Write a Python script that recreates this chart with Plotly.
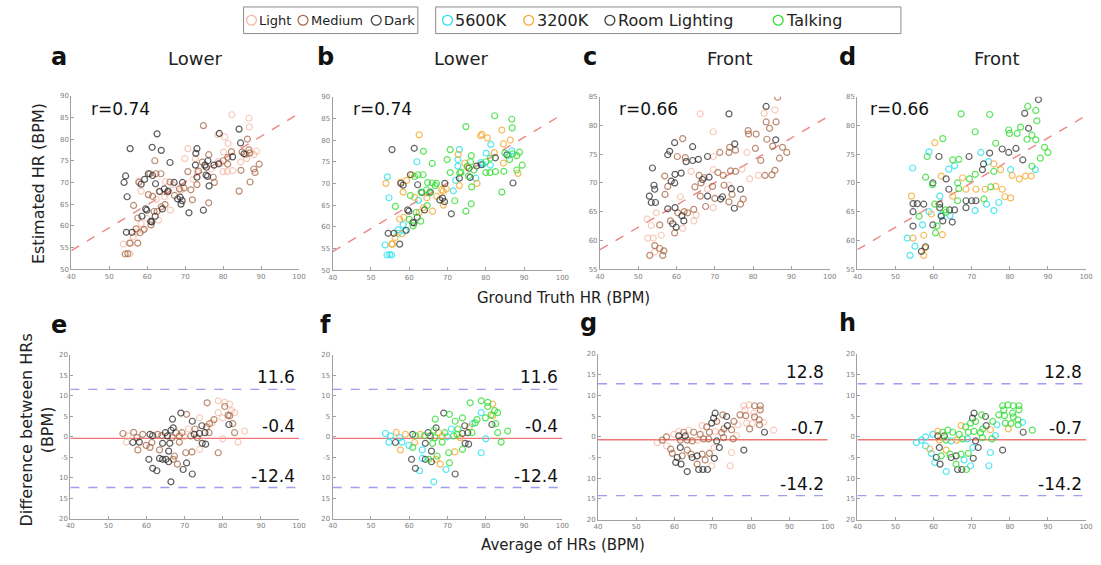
import plotly.graph_objects as go

W, H = 1101, 565

# ---------------- DATA ----------------
# Lower camera: ground truth vs estimated HR (panels a, b)
lower_gt = [62.6, 55.5, 61.3, 63.7, 54.3, 53.9, 59.3, 60.3, 61.4, 62.2, 58.4, 54.7, 59.6, 59.9, 58.6, 60.9, 61.2, 62.1, 54.5, 64.5,
            65.5, 66.0, 67.1, 68.0, 68.7, 69.2, 69.3, 68.9, 71.0, 72.7, 73.1, 72.8, 73.1, 75.2, 75.6, 75.5, 76.0, 76.3, 74.8, 75.9,
            79.0, 77.6, 78.8, 84.2, 84.6, 82.5, 85.5, 63.3, 64.0, 56.0,
            74.8, 62.0, 62.3, 60.7, 63.6, 60.3, 61.4, 57.8, 56.4, 57.5, 59.2, 58.1, 55.4, 54.2, 54.9, 57.5, 57.1, 61.0, 61.8, 62.6,
            63.7, 64.7, 65.3, 66.0, 67.2, 68.5, 69.7, 70.7, 71.5, 71.9, 73.1, 73.5, 74.5, 76.2, 76.2, 77.4, 77.7, 80.0, 81.2, 81.2,
            84.2, 84.7, 86.0, 86.8, 87.0, 87.1, 88.4, 89.5, 88.1, 86.4, 85.0, 82.2,
            82.3, 86.8, 86.9, 81.3, 80.4, 78.6, 80.1, 70.7, 69.9, 73.2, 75.1, 76.9, 78.7, 80.0, 81.1, 82.5, 86.2, 88.1, 88.8, 84.6,
            79.3, 53.7, 55.4, 56.3, 55.6, 57.1, 58.9, 58.4, 60.0, 64.6, 66.1, 63.1, 64.8, 57.8, 58.4, 66.8, 68.9, 72.1, 72.7, 62.4, 63.0]
lower_est = [81.2, 77.8, 78.1, 77.4, 71.5, 70.0, 70.7, 72.0, 71.6, 69.7, 69.6, 66.7, 63.9, 63.6, 62.2, 61.0, 60.9, 62.2, 58.5, 68.5,
             68.0, 74.6, 70.0, 66.2, 66.6, 65.8, 70.0, 65.0, 63.0, 74.0, 77.8, 76.7, 71.2, 74.0, 73.5, 71.7, 75.0, 69.2, 63.6, 71.4,
             81.3, 74.0, 74.3, 82.3, 79.1, 75.9, 76.6, 67.9, 63.9, 58.5,
             83.1, 75.0, 72.0, 72.0, 72.0, 67.2, 66.8, 70.0, 64.7, 61.8, 59.2, 58.4, 56.0, 53.5, 53.6, 56.0, 59.3, 60.2, 63.3, 63.3,
             64.4, 64.9, 67.8, 70.1, 67.0, 68.5, 68.7, 72.5, 68.3, 66.0, 69.5, 72.6, 74.7, 76.4, 65.3, 71.2, 70.0, 75.0, 74.2, 75.8,
             68.0, 72.8, 76.5, 77.5, 76.8, 70.1, 72.3, 74.2, 73.1, 80.0, 77.0, 77.1,
             85.6, 84.8, 82.8, 79.0, 80.5, 81.0, 77.0, 77.8, 75.5, 72.4, 73.8, 73.1, 74.8, 72.5, 72.5, 72.7, 75.5, 76.4, 77.2, 74.7,
             74.4, 55.8, 53.5, 57.5, 56.0, 58.5, 59.0, 60.5, 61.7, 66.7, 63.6, 68.0, 70.2, 70.3, 68.0, 69.5, 68.2, 70.7, 75.5, 66.1, 61.3]
lower_skin = (["Dark"] * 50) + (["Medium"] * 52) + (["Light"] * 41)
lower_light = ["3200K", "Room Lighting", "Room Lighting", "Talking", "5600K", "3200K", "3200K", "Room Lighting", "Talking", "Room Lighting",
               "Room Lighting", "5600K", "Room Lighting", "Room Lighting", "3200K", "Room Lighting", "Room Lighting", "Room Lighting", "Room Lighting", "Talking",
               "Room Lighting", "Talking", "Talking", "Room Lighting", "Room Lighting", "Room Lighting", "Room Lighting", "3200K", "Room Lighting", "5600K",
               "5600K", "3200K", "Room Lighting", "Talking", "Room Lighting", "Talking", "Talking", "Talking", "Talking", "Room Lighting",
               "3200K", "Room Lighting", "Room Lighting", "3200K", "3200K", "Room Lighting", "Room Lighting", "Room Lighting", "Room Lighting", "Room Lighting",
               "Talking", "5600K", "Talking", "3200K", "Talking", "Talking", "3200K", "Room Lighting", "Talking", "3200K",
               "Room Lighting", "3200K", "3200K", "5600K", "5600K", "Room Lighting", "5600K", "Talking", "Talking", "3200K",
               "3200K", "Talking", "Talking", "Talking", "3200K", "3200K", "3200K", "Talking", "5600K", "Talking",
               "3200K", "Talking", "3200K", "Talking", "Talking", "5600K", "3200K", "Talking", "5600K", "Talking",
               "Talking", "Talking", "5600K", "5600K", "Talking", "Room Lighting", "3200K", "Talking", "Talking", "3200K",
               "Talking", "3200K",
               "Talking", "Talking", "Talking", "5600K", "3200K", "3200K", "5600K", "Talking", "Talking", "Talking",
               "3200K", "Talking", "5600K", "Talking", "Talking", "Talking", "Talking", "Talking", "Talking", "3200K",
               "5600K", "5600K", "5600K", "3200K", "3200K", "5600K", "5600K", "5600K", "Talking", "3200K",
               "3200K", "Talking", "Talking", "3200K", "3200K", "Talking", "3200K", "5600K", "5600K", "5600K", "Talking"]

# Front camera, coloured by skin tone (panel c)
front_c_gt = [86.4, 83.4, 73.7, 66.2, 85.7, 82.9, 83.4, 86.0, 84.3, 69.6, 78.7, 78.8, 80.8, 83.6, 85.9, 59.5, 61.6, 64.2, 58.2, 57.7,
              60.2, 62.3, 62.5, 64.2, 65.7, 68.1, 69.6, 71.3, 73.7, 75.2, 73.9, 75.4, 78.4, 80.6, 85.1, 87.7, 88.8, 86.9, 82.0, 85.7,
              81.4, 83.1, 84.9, 53.7, 56.9, 58.6, 59.6, 61.2, 63.8, 65.9, 67.2, 68.5, 69.6, 70.8, 72.2, 74.1, 75.4, 77.1, 79.1, 54.1,
              54.3, 57.7, 59.5, 64.8, 66.4, 66.8, 68.1, 69.4, 72.4, 74.3, 76.7, 73.7, 52.9, 53.4, 54.5, 57.0, 61.0, 66.2, 68.1, 70.0,
              71.5, 72.0, 74.5, 77.4, 76.7, 73.7, 75.1, 69.6, 67.6, 57.7, 59.6, 60.3, 62.0, 62.9, 64.5, 65.1, 54.7, 52.3, 53.4, 55.6,
              58.4, 59.0, 59.9, 61.9, 61.4, 64.5, 59.5, 61.6, 52.5, 53.9, 56.0, 54.3, 55.6, 56.7, 53.0, 56.4, 54.3]
front_c_est = [84.9, 83.3, 82.0, 82.0, 82.7, 82.1, 80.6, 80.6, 79.5, 78.9, 79.1, 78.5, 78.5, 77.6, 77.5, 77.0, 77.7, 76.3, 75.5, 74.9,
               74.6, 74.4, 73.7, 73.9, 74.1, 74.6, 74.6, 75.3, 75.3, 76.8, 76.2, 75.7, 75.3, 76.0, 76.4, 76.2, 75.3, 74.3, 73.9, 72.2,
               71.3, 71.3, 71.4, 72.6, 71.2, 70.3, 71.5, 71.7, 72.0, 71.3, 70.9, 71.0, 72.3, 71.8, 71.3, 72.1, 72.0, 72.4, 70.7, 69.6,
               68.9, 69.4, 70.0, 69.3, 70.0, 70.6, 68.9, 69.4, 69.6, 69.0, 68.9, 69.6, 67.7, 66.6, 66.6, 68.0, 67.6, 67.7, 67.7, 67.3,
               67.2, 67.6, 68.0, 67.2, 66.3, 66.7, 65.6, 65.7, 65.9, 65.5, 65.7, 64.8, 65.0, 64.8, 65.4, 64.4, 64.8, 63.7, 62.6, 62.7,
               63.4, 62.9, 62.3, 63.4, 64.3, 63.4, 61.3, 62.1, 60.4, 60.4, 60.9, 59.1, 58.6, 58.2, 57.4, 57.4, 58.0]
front_c_skin = ["Medium", "Dark", "Dark", "Light", "Light", "Light", "Medium", "Medium", "Medium", "Light",
                "Medium", "Medium", "Medium", "Medium", "Dark", "Dark", "Medium", "Dark", "Dark", "Dark",
                "Medium", "Medium", "Dark", "Dark", "Dark", "Dark", "Light", "Medium", "Medium", "Dark",
                "Medium", "Medium", "Light", "Medium", "Medium", "Medium", "Medium", "Medium", "Medium", "Medium",
                "Light", "Medium", "Medium", "Dark", "Medium", "Dark", "Dark", "Dark", "Light", "Medium",
                "Medium", "Dark", "Light", "Medium", "Medium", "Medium", "Medium", "Light", "Light", "Dark",
                "Dark", "Medium", "Dark", "Medium", "Medium", "Dark", "Light", "Medium", "Medium", "Dark",
                "Dark", "Light", "Dark", "Dark", "Dark", "Medium", "Light", "Medium", "Dark", "Medium",
                "Dark", "Dark", "Medium", "Medium", "Medium", "Medium", "Dark", "Light", "Medium", "Dark",
                "Dark", "Medium", "Medium", "Medium", "Medium", "Light", "Light", "Light", "Light", "Medium",
                "Medium", "Dark", "Dark", "Dark", "Dark", "Light", "Medium", "Light", "Light", "Light",
                "Light", "Medium", "Medium", "Medium", "Medium", "Medium", "Light"]

# Front camera, coloured by lighting condition (panel d)
front_d_gt = [87.5, 84.7, 83.9, 67.2, 74.7, 86.8, 87.1, 84.9, 70.9, 79.7, 79.9, 81.9, 84.5, 85.8, 82.8, 86.8, 62.4, 60.3, 58.8, 58.3,
              61.4, 65.0, 66.6, 69.3, 72.4, 74.7, 76.3, 78.0, 79.7, 81.6, 89.1, 90.0, 88.0, 83.4, 86.7, 85.8, 84.1, 85.6, 82.5, 54.5,
              57.9, 59.8, 59.7, 62.0, 64.0, 65.5, 63.3, 66.3, 67.6, 69.4, 70.9, 72.8, 73.1, 74.4, 75.8, 75.8, 77.6, 80.6, 80.2, 64.0,
              61.6, 65.0, 66.6, 68.5, 71.1, 73.5, 75.0, 76.3, 78.0, 78.7, 80.2, 54.2, 54.6, 55.7, 57.4, 61.6, 66.3, 68.5, 70.0, 71.1,
              73.2, 73.9, 77.1, 75.8, 70.9, 68.5, 54.6, 60.3, 61.6, 63.1, 64.2, 65.5, 62.0, 63.3, 64.3, 59.4, 58.8, 62.0, 56.2, 57.1,
              54.6, 59.8, 60.9, 62.4, 64.9, 60.5, 62.3, 53.1, 54.6, 57.4, 55.1, 57.7, 57.9, 56.8, 57.4, 53.8]
front_d_est = [84.5, 83.3, 82.1, 82.0, 81.9, 82.6, 80.8, 79.5, 78.9, 79.2, 78.6, 78.6, 77.6, 78.3, 79.7, 77.5, 77.7, 77.0, 75.4, 74.6,
               74.6, 74.0, 74.1, 74.6, 75.3, 75.2, 76.9, 75.9, 75.3, 76.0, 76.2, 75.3, 74.3, 74.0, 72.3, 72.9, 71.2, 71.2, 70.7, 72.6,
               71.0, 70.0, 69.7, 71.2, 72.4, 73.0, 70.7, 70.0, 70.9, 70.7, 71.5, 72.3, 73.3, 73.7, 73.3, 72.0, 72.3, 71.3, 72.3, 68.9,
               67.7, 67.7, 69.0, 68.9, 68.9, 68.9, 69.3, 69.4, 68.9, 67.6, 67.4, 67.7, 66.4, 66.4, 66.3, 66.3, 66.9, 66.9, 66.9, 66.9,
               67.2, 66.3, 66.6, 65.2, 65.2, 65.7, 65.0, 66.3, 65.7, 65.3, 65.3, 65.3, 64.4, 64.9, 64.3, 64.6, 65.0, 64.2, 64.2, 62.7,
               62.5, 62.7, 62.5, 63.4, 63.2, 61.3, 61.0, 60.4, 60.4, 60.9, 59.0, 58.7, 58.9, 58.1, 57.4, 57.4]
front_d_light = ["Room Lighting", "Talking", "Room Lighting", "Talking", "Talking", "Talking", "Talking", "Room Lighting", "Talking", "Talking",
                 "Talking", "Talking", "Talking", "Talking", "Talking", "Talking", "Talking", "3200K", "5600K", "Talking",
                 "Room Lighting", "Talking", "Talking", "Room Lighting", "5600K", "Room Lighting", "Talking", "Room Lighting", "Room Lighting", "Room Lighting",
                 "Talking", "Talking", "Talking", "Room Lighting", "5600K", "Talking", "3200K", "3200K", "3200K", "5600K",
                 "Talking", "Room Lighting", "Talking", "3200K", "5600K", "5600K", "Room Lighting", "Talking", "3200K", "Talking",
                 "Talking", "Room Lighting", "Room Lighting", "5600K", "3200K", "Talking", "3200K", "3200K", "5600K", "Room Lighting",
                 "5600K", "3200K", "Talking", "3200K", "3200K", "3200K", "Talking", "3200K", "3200K", "3200K",
                 "3200K", "3200K", "Room Lighting", "Room Lighting", "Room Lighting", "Room Lighting", "Talking", "Room Lighting", "Room Lighting", "Room Lighting",
                 "Talking", "5600K", "5600K", "5600K", "5600K", "Room Lighting", "Room Lighting", "Talking", "Room Lighting", "Talking",
                 "Room Lighting", "Room Lighting", "5600K", "Talking", "5600K", "3200K", "5600K", "Room Lighting", "Talking", "5600K",
                 "Room Lighting", "Room Lighting", "Talking", "Room Lighting", "Room Lighting", "Talking", "3200K", "5600K", "3200K", "3200K",
                 "5600K", "3200K", "Room Lighting", "Room Lighting", "3200K", "5600K"]

# Lower camera Bland-Altman (panels e, f)
lower_ba_avg = [75.9, 78.8, 80.5, 81.8, 80.5, 82.3, 81.8, 81.4, 83.1, 78.8, 79.9, 69.0, 70.5, 77.7, 76.5, 81.6, 82.6, 72.0, 73.9, 74.5,
                75.7, 77.2, 66.8, 67.0, 66.4, 64.9, 67.7, 69.3, 71.0, 72.7, 73.9, 75.3, 76.4, 72.5, 83.1, 85.7, 84.0, 78.8, 80.0, 53.8,
                55.1, 56.6, 57.5, 59.0, 60.9, 61.6, 62.9, 64.0, 65.5, 66.7, 68.6, 69.9, 71.6, 73.3, 74.6, 75.5, 54.7, 56.4, 58.1, 57.7,
                59.9, 60.9, 61.4, 63.4, 64.2, 66.1, 65.8, 67.3, 70.3, 71.9, 73.9, 68.6, 60.6, 63.4, 64.2, 65.1, 65.8, 67.0, 61.6, 62.7,
                70.5, 69.6, 72.0, 66.4, 68.1]
lower_ba_diff = [8.3, 8.8, 8.4, 8.0, 7.4, 6.4, 5.1, 5.3, 5.9, 5.9, 4.6, 5.8, 5.5, 4.2, 3.2, 3.0, 3.2, 3.8, 4.6, 2.7,
                 2.4, 3.4, 4.3, 2.2, 1.6, 1.0, 1.0, 1.0, 1.9, 1.9, 0.8, 1.0, 1.0, 0.6, 1.0, 1.4, -1.3, -3.9, -0.5, 0.8,
                 0.2, 1.1, -0.2, 0.6, 0.6, 0.3, 0.6, 0.3, 0.2, -0.2, 0.2, 0.0, 0.2, -0.2, -1.6, -1.8, -1.3, -1.4, -1.3, -3.2,
                 -2.1, -2.6, -1.4, -3.2, -1.6, -1.6, -3.5, -4.7, -3.9, -3.7, -3.1, -1.3, -5.5, -5.3, -5.5, -5.5, -6.1, -5.5, -7.7, -8.3,
                 -6.4, -8.0, -9.1, -11.0, -6.7]
lower_ba_skin = ["Medium", "Light", "Light", "Light", "Medium", "Light", "Medium", "Medium", "Light", "Light",
                 "Light", "Dark", "Medium", "Medium", "Medium", "Dark", "Medium", "Dark", "Light", "Dark",
                 "Medium", "Light", "Dark", "Dark", "Dark", "Dark", "Medium", "Medium", "Light", "Medium",
                 "Dark", "Dark", "Medium", "Dark", "Medium", "Light", "Light", "Medium", "Light", "Medium",
                 "Light", "Medium", "Medium", "Medium", "Dark", "Dark", "Medium", "Medium", "Dark", "Medium",
                 "Medium", "Light", "Medium", "Medium", "Dark", "Dark", "Light", "Dark", "Dark", "Medium",
                 "Medium", "Medium", "Medium", "Medium", "Dark", "Dark", "Dark", "Medium", "Medium", "Medium",
                 "Light", "Medium", "Dark", "Dark", "Dark", "Dark", "Dark", "Medium", "Dark", "Dark",
                 "Dark", "Dark", "Dark", "Dark", "Medium"]
lower_ba_light = ["Talking", "Talking", "Talking", "3200K", "Talking", "Talking", "3200K", "Talking", "Talking", "5600K",
                  "Talking", "Room Lighting", "Talking", "Talking", "5600K", "Room Lighting", "Talking", "Talking", "Talking", "Room Lighting",
                  "3200K", "Talking", "Talking", "Room Lighting", "Talking", "Room Lighting", "3200K", "Talking", "5600K", "Talking",
                  "Room Lighting", "Room Lighting", "Talking", "Talking", "Talking", "Talking", "Talking", "5600K", "5600K", "5600K",
                  "5600K", "3200K", "5600K", "3200K", "Room Lighting", "Talking", "3200K", "Talking", "Room Lighting", "Talking",
                  "3200K", "5600K", "Talking", "3200K", "Room Lighting", "Room Lighting", "5600K", "Room Lighting", "5600K", "3200K",
                  "5600K", "Talking", "3200K", "5600K", "Room Lighting", "Talking", "Room Lighting", "Talking", "Talking", "3200K",
                  "Talking", "Talking", "Room Lighting", "5600K", "Room Lighting", "Talking", "Room Lighting", "3200K", "Room Lighting", "5600K",
                  "Talking", "5600K", "Room Lighting", "5600K", "3200K"]

# Front camera Bland-Altman (panels g, h)
front_ba_avg = [78.1, 79.5, 80.9, 82.4, 82.4, 80.7, 78.4, 77.1, 78.6, 80.9, 82.1, 83.3, 82.2, 80.3, 78.8, 79.6, 83.5, 85.9, 76.6, 75.5,
                73.6, 72.6, 70.6, 70.2, 69.7, 71.0, 73.8, 72.9, 74.9, 76.2, 75.3, 72.3, 68.4, 67.2, 69.1, 70.6, 66.7, 65.0, 63.7, 62.4,
                61.1, 61.5, 63.3, 64.6, 66.0, 67.6, 68.9, 71.0, 72.8, 55.5, 56.8, 57.9, 57.9, 59.0, 59.4, 60.7, 60.3, 61.7, 62.0, 63.3,
                64.3, 64.6, 65.9, 67.2, 68.0, 69.1, 70.4, 71.7, 70.3, 63.3, 66.3, 67.4, 68.6, 69.7, 65.9, 74.5, 78.1, 74.9, 61.5, 62.8,
                59.8, 61.1]
front_ba_diff = [7.5, 7.7, 7.5, 7.5, 6.5, 5.7, 6.5, 5.3, 5.1, 4.8, 4.1, 3.5, 2.9, 3.2, 3.3, 1.9, 1.1, 1.6, 2.9, 3.7,
                 4.9, 5.3, 5.7, 4.5, 3.3, 3.7, 2.7, 1.9, 1.7, 0.3, -0.5, 1.0, 2.4, 2.7, 1.1, 1.3, 0.6, 1.1, 1.6, 1.1,
                 0.2, -0.8, -0.8, -1.0, -0.8, -0.5, -0.5, -1.0, -0.2, -1.4, -0.8, 0.0, -2.2, -3.0, -4.0, -5.0, -6.2, -6.6, -4.6, -3.2,
                 -4.2, -5.0, -4.6, -4.2, -5.6, -4.0, -5.2, -2.6, -2.6, -8.4, -7.9, -7.9, -7.9, -7.0, -6.6, -7.0, -3.2, -3.8, -2.6, 0.2,
                 0.6, 1.3]
front_ba_skin = ["Light", "Light", "Medium", "Medium", "Medium", "Light", "Light", "Medium", "Medium", "Medium",
                 "Medium", "Light", "Medium", "Light", "Light", "Medium", "Dark", "Light", "Light", "Medium",
                 "Dark", "Medium", "Dark", "Dark", "Dark", "Medium", "Dark", "Medium", "Medium", "Light",
                 "Medium", "Medium", "Medium", "Light", "Medium", "Light", "Medium", "Medium", "Light", "Medium",
                 "Dark", "Medium", "Medium", "Medium", "Light", "Medium", "Medium", "Dark", "Medium", "Light",
                 "Medium", "Medium", "Light", "Medium", "Medium", "Dark", "Dark", "Dark", "Medium", "Medium",
                 "Medium", "Dark", "Dark", "Medium", "Medium", "Medium", "Dark", "Dark", "Light", "Dark",
                 "Dark", "Dark", "Dark", "Light", "Medium", "Light", "Dark", "Light", "Dark", "Dark",
                 "Light", "Light"]
front_ba_light = ["Talking", "Talking", "Talking", "Talking", "Talking", "Talking", "Talking", "Talking", "Talking", "Talking",
                  "Talking", "5600K", "Talking", "Talking", "Talking", "3200K", "Room Lighting", "Talking", "5600K", "Talking",
                  "Room Lighting", "Talking", "Room Lighting", "Room Lighting", "Talking", "Talking", "Room Lighting", "Talking", "3200K", "5600K",
                  "Talking", "Talking", "Talking", "3200K", "Talking", "Talking", "Talking", "Talking", "Talking", "Talking",
                  "Room Lighting", "3200K", "Talking", "5600K", "3200K", "Talking", "5600K", "Room Lighting", "Talking", "5600K",
                  "5600K", "5600K", "5600K", "3200K", "5600K", "Room Lighting", "5600K", "Room Lighting", "Talking", "3200K",
                  "Talking", "Room Lighting", "Room Lighting", "Talking", "5600K", "Talking", "Room Lighting", "Room Lighting", "5600K", "5600K",
                  "Room Lighting", "Room Lighting", "Talking", "5600K", "Talking", "5600K", "Room Lighting", "5600K", "Room Lighting", "Room Lighting",
                  "5600K", "3200K"]

# Summary statistics
r_values = ["r=0.74", "r=0.74", "r=0.66", "r=0.66"]
fit_lower = [54.3, 85.9]   # regression line at x=40 and x=100
fit_front = [58.4, 81.7]
ba_lower = [11.6, -0.4, -12.4]   # upper LoA, bias, lower LoA
ba_front = [12.8, -0.7, -14.2]

skin_names = ["Light", "Medium", "Dark"]
light_names = ["5600K", "3200K", "Room Lighting", "Talking"]
panel_letters = ["a", "b", "c", "d", "e", "f", "g", "h"]
panel_titles = ["Lower", "Lower", "Front", "Front"]

# ---------------- STYLE ----------------
skin_colors = {"Light": "rgba(242,170,145,0.6)", "Medium": "rgba(165,100,65,0.75)", "Dark": "rgba(40,40,40,0.75)"}
light_colors = {"5600K": "rgba(40,225,240,0.8)", "3200K": "rgba(245,170,50,0.8)",
                "Room Lighting": "rgba(50,50,50,0.75)", "Talking": "rgba(50,220,50,0.8)"}
legend_skin_colors = {"Light": "rgb(242,185,165)", "Medium": "rgb(165,105,75)", "Dark": "rgb(70,70,70)"}
legend_light_colors = {"5600K": "rgb(40,225,240)", "3200K": "rgb(245,170,50)",
                       "Room Lighting": "rgb(60,60,60)", "Talking": "rgb(50,220,50)"}
FONT = "DejaVu Sans"

# pixel boxes of each panel (x0, x1, y_top, y_bottom)
boxes = [(68, 298, 93, 269), (332, 564, 94, 270), (602, 834, 94, 269), (862, 1093, 94, 269),
         (67, 298, 356, 522), (332, 564, 356, 522), (600, 832, 355, 523), (862, 1093, 355, 523)]

def px(x):
    return x / W

def py(y):
    return 1 - y / H

fig = go.Figure()
layout = dict(width=W, height=H, margin=dict(l=0, r=0, t=0, b=0), paper_bgcolor="white",
              plot_bgcolor="white", showlegend=False, font=dict(family=FONT, color="#222"))

yranges = [(50, 90), (50, 90), (55, 85), (55, 85)] + [(-20, 20)] * 4
ytickvals = [list(range(50, 91, 5))] * 2 + [list(range(55, 86, 5))] * 2 + [list(range(-20, 21, 5))] * 4
ba_ticktext = ["20", "15", "10", "-5", "0", "5", "10", "15", "20"]

for i, (x0, x1, yt, yb) in enumerate(boxes):
    n = "" if i == 0 else str(i + 1)
    xa = dict(domain=[px(x0), px(x1)], range=[40, 100], anchor="y" + n,
              showgrid=False, zeroline=False, showline=True, linecolor="#a0a0a0", linewidth=1,
              ticks="inside", ticklen=3, tickcolor="#a0a0a0", tickvals=list(range(40, 101, 10)),
              tickfont=dict(size=7, color="#808080"), fixedrange=True)
    ya = dict(domain=[py(yb), py(yt)], range=list(yranges[i]), anchor="x" + n,
              showgrid=False, zeroline=False, showline=True, linecolor="#a0a0a0", linewidth=1,
              ticks="inside", ticklen=3, tickcolor="#a0a0a0", tickvals=ytickvals[i],
              tickfont=dict(size=7, color="#808080"), fixedrange=True)
    if i >= 4:
        ya["ticktext"] = ba_ticktext
    layout["xaxis" + n] = xa
    layout["yaxis" + n] = ya

def add_group(xs, ys, labels, names, colors, idx):
    n = "" if idx == 0 else str(idx + 1)
    for name in names:
        gx = [x for x, l in zip(xs, labels) if l == name]
        gy = [y for y, l in zip(ys, labels) if l == name]
        fig.add_trace(go.Scatter(x=gx, y=gy, mode="markers", name=name,
                                 marker=dict(symbol="circle-open", size=6, color=colors[name],
                                             line=dict(width=1.2)),
                                 xaxis="x" + n, yaxis="y" + n, hoverinfo="skip"))

def add_line(xs, ys, idx, color, dash):
    n = "" if idx == 0 else str(idx + 1)
    fig.add_trace(go.Scatter(x=xs, y=ys, mode="lines", line=dict(color=color, width=1.4, dash=dash),
                             xaxis="x" + n, yaxis="y" + n, hoverinfo="skip"))

add_line([40, 100], fit_lower, 0, "rgba(235,110,110,0.85)", "dash")
add_line([40, 100], fit_lower, 1, "rgba(235,110,110,0.85)", "dash")
add_line([40, 100], fit_front, 2, "rgba(235,110,110,0.85)", "dash")
add_line([40, 100], fit_front, 3, "rgba(235,110,110,0.85)", "dash")
for idx, vals in [(4, ba_lower), (5, ba_lower), (6, ba_front), (7, ba_front)]:
    add_line([40, 100], [vals[0], vals[0]], idx, "rgba(140,140,240,0.85)", "dash")
    add_line([40, 100], [vals[2], vals[2]], idx, "rgba(140,140,240,0.85)", "dash")
    add_line([40, 100], [vals[1], vals[1]], idx, "rgba(240,110,110,0.95)", "solid")

add_group(lower_gt, lower_est, lower_skin, skin_names, skin_colors, 0)
add_group(lower_gt, lower_est, lower_light, light_names, light_colors, 1)
add_group(front_c_gt, front_c_est, front_c_skin, skin_names, skin_colors, 2)
add_group(front_d_gt, front_d_est, front_d_light, light_names, light_colors, 3)
add_group(lower_ba_avg, lower_ba_diff, lower_ba_skin, skin_names, skin_colors, 4)
add_group(lower_ba_avg, lower_ba_diff, lower_ba_light, light_names, light_colors, 5)
add_group(front_ba_avg, front_ba_diff, front_ba_skin, skin_names, skin_colors, 6)
add_group(front_ba_avg, front_ba_diff, front_ba_light, light_names, light_colors, 7)

ann = []
shapes = []

def paper_text(x, y, text, size, xanchor="center", angle=0, color="#222"):
    ann.append(dict(x=px(x), y=py(y), xref="paper", yref="paper", text=text, showarrow=False,
                    textangle=angle, font=dict(size=size, color=color, family=FONT),
                    xanchor=xanchor, yanchor="middle"))

# panel letters and titles
letter_pos = [(56, 54), (325, 54), (592, 54), (852, 54), (56, 326), (325, 326), (590, 324), (852, 324)]
for (x, y), t in zip(letter_pos, panel_letters):
    paper_text(x, y, "<b>%s</b>" % t, 24, color="#111")
title_pos = [(193, 55), (462, 55), (733, 55), (1003, 55)]
for (x, y), t in zip(title_pos, panel_titles):
    paper_text(x, y, t, 18)

# r values
r_pos = [86, 350, 619, 873]
for x, t in zip(r_pos, r_values):
    paper_text(x, 107, t, 17, xanchor="left", color="#111")

# Bland-Altman labels
for idx, vals in [(4, ba_lower), (5, ba_lower), (6, ba_front), (7, ba_front)]:
    n = "" if idx == 0 else str(idx + 1)
    for v in vals:
        ann.append(dict(x=100, y=v, xref="x" + n, yref="y" + n, text="%g" % v, showarrow=False,
                        font=dict(size=17, color="#111", family=FONT), xanchor="right", yanchor="bottom",
                        xshift=-2, yshift=0))

# axis titles
paper_text(35, 182, "Estimated HR (BPM)", 16, angle=-90)
paper_text(565, 298, "Ground Truth HR (BPM)", 15)
paper_text(33, 432, "Difference between HRs<br>(BPM)", 16, angle=-90)
paper_text(565, 549, "Average of HRs (BPM)", 15)

# custom legends
def legend_box(x0, x1, items, colors, size):
    shapes.append(dict(type="rect", xref="paper", yref="paper", x0=px(x0), x1=px(x1), y0=py(30), y1=py(3),
                       line=dict(color="#8a8a8a", width=1), fillcolor="white"))
    for cx, name in items:
        shapes.append(dict(type="circle", xref="paper", yref="paper", x0=px(cx - 5), x1=px(cx + 5),
                           y0=py(21.5), y1=py(11.5), line=dict(color=colors[name], width=1.3)))
        paper_text(cx + 6, 17, name, size, xanchor="left")

legend_box(242, 418, [(250, "Light"), (302, "Medium"), (376, "Dark")], legend_skin_colors, 13)
legend_box(436, 906, [(448, "5600K"), (530, "3200K"), (612, "Room Lighting"), (782, "Talking")],
           legend_light_colors, 16)

layout["annotations"] = ann
layout["shapes"] = shapes
fig.update_layout(**layout)
fig.write_html("out.html")
